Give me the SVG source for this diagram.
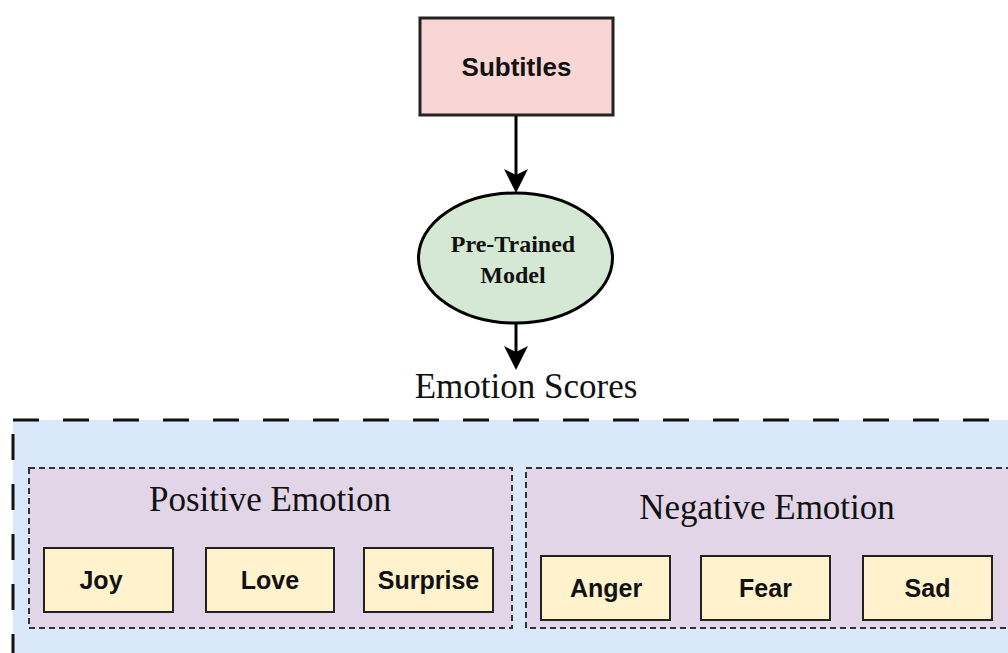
<svg xmlns="http://www.w3.org/2000/svg" width="1008" height="653" viewBox="0 0 1008 653">
  <defs>
    <marker id="arrow" viewBox="0 0 24 24" refX="14" refY="12" markerWidth="24" markerHeight="24" markerUnits="userSpaceOnUse" orient="auto">
      <path d="M0,0 L24,12 L0,24 L6,12 Z" fill="#000"/>
    </marker>
  </defs>
  <style>
    .sans { font-family: "Liberation Sans", Arial, sans-serif; font-weight: bold; fill: #111; }
    .serif { font-family: "Liberation Serif", "Times New Roman", serif; fill: #111; }
    .item { fill: #fff2cc; stroke: #222; stroke-width: 2; }
    .group { fill: #e1d5e7; stroke: #333; stroke-width: 2; stroke-dasharray: 6 4; }
    .edge { stroke: #000; stroke-width: 3; fill: none; marker-end: url(#arrow); }
  </style>
  <rect width="1008" height="653" fill="#ffffff"/>

  <!-- outer container for emotion scores -->
  <g id="scores">
    <rect x="13" y="420" width="1010" height="260" fill="#dae8fc" stroke="#111" stroke-width="3" stroke-dasharray="26 24"/>
  </g>

  <g id="subtitles">
    <rect x="420" y="18" width="193" height="97" fill="#f9d6d3" stroke="#222" stroke-width="3"/>
    <text class="sans" x="516.5" y="76" font-size="26" text-anchor="middle">Subtitles</text>
  </g>

  <g id="model">
    <ellipse cx="515.5" cy="258" rx="97" ry="65" fill="#d5e8d4" stroke="#000" stroke-width="3"/>
    <text class="serif" x="513" y="252" font-size="24" font-weight="bold" text-anchor="middle">Pre-Trained</text>
    <text class="serif" x="513" y="283" font-size="24" font-weight="bold" text-anchor="middle">Model</text>
  </g>

  <g id="connectors">
    <line class="edge" x1="516" y1="116" x2="516" y2="183"/>
    <line class="edge" x1="516" y1="324" x2="516" y2="360"/>
  </g>

  <text class="serif" x="526" y="398" font-size="35" text-anchor="middle">Emotion Scores</text>

  <g id="positive">
    <rect class="group" x="29" y="468" width="483" height="160"/>
    <text class="serif" x="270" y="511" font-size="35" text-anchor="middle">Positive Emotion</text>
  </g>
  <g id="joy">
    <rect class="item" x="44" y="548" width="129" height="64"/>
    <text class="sans" x="101" y="589" font-size="25" text-anchor="middle">Joy</text>
  </g>
  <g id="love">
    <rect class="item" x="206" y="548" width="128" height="64"/>
    <text class="sans" x="270" y="589" font-size="25" text-anchor="middle">Love</text>
  </g>
  <g id="surprise">
    <rect class="item" x="364" y="548" width="129" height="64"/>
    <text class="sans" x="428.5" y="589" font-size="25" text-anchor="middle">Surprise</text>
  </g>

  <g id="negative">
    <rect class="group" x="526" y="468" width="490" height="160"/>
    <text class="serif" x="767" y="519" font-size="35" text-anchor="middle">Negative Emotion</text>
  </g>
  <g id="anger">
    <rect class="item" x="541" y="556" width="129" height="64"/>
    <text class="sans" x="606" y="597" font-size="25" text-anchor="middle">Anger</text>
  </g>
  <g id="fear">
    <rect class="item" x="701" y="556" width="129" height="64"/>
    <text class="sans" x="765.5" y="597" font-size="25" text-anchor="middle">Fear</text>
  </g>
  <g id="sad">
    <rect class="item" x="863" y="556" width="129" height="64"/>
    <text class="sans" x="927.5" y="597" font-size="25" text-anchor="middle">Sad</text>
  </g>
</svg>
